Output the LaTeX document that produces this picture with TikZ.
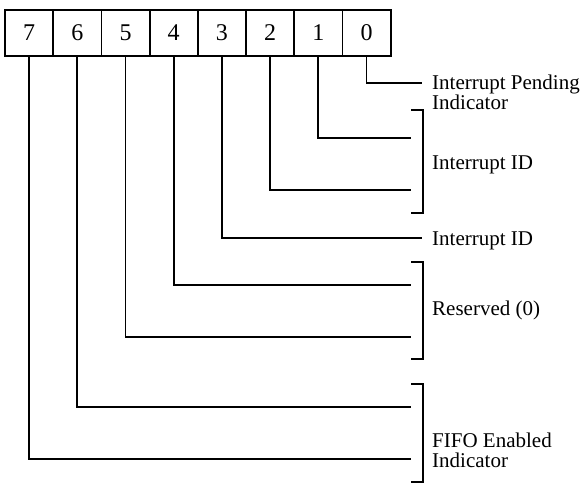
\documentclass[tikz,border=0pt]{standalone}
\usepackage{fontspec}
\setmainfont{Liberation Serif}
\begin{document}
\begin{tikzpicture}[x=1pt,y=-1pt,
  wire/.style={line width=1.8pt},
  bitbox/.style={draw,line width=1.8pt,minimum width=48.2pt,minimum height=46pt,inner sep=0pt,font=\fontsize{24}{24}\selectfont},
  lbl/.style={anchor=base west,inner sep=0pt,align=left,font=\fontsize{21}{20}\selectfont}]
\useasboundingbox (0,0) rectangle (585,489);
% register boxes
\foreach \i/\n in {0/7,1/6,2/5,3/4,4/3,5/2,6/1,7/0}{
  \node[bitbox] (b\n) at ({5+24.1+48.2*\i},33) {\n};
}
% end points of connectors
\coordinate (e0) at (422,83);
\coordinate (e1) at (411,138);
\coordinate (e2) at (411,190);
\coordinate (e3) at (422,238);
\coordinate (e4) at (411,285);
\coordinate (e5) at (411,337);
\coordinate (e6) at (411,407);
\coordinate (e7) at (411,459);
\foreach \n in {0,...,7}{
  \draw[wire] (b\n.south) |- (e\n);
}
% brackets
\coordinate (k1a) at (411,110); \coordinate (k1b) at (411,213);
\coordinate (k2a) at (411,262); \coordinate (k2b) at (411,359);
\coordinate (k3a) at (411,384); \coordinate (k3b) at (411,482);
\draw[wire] (k1a) -- ++(12,0) |- (k1b);
\draw[wire] (k2a) -- ++(12,0) |- (k2b);
\draw[wire] (k3a) -- ++(12,0) |- (k3b);
% labels
\node[lbl] (l0) at (432,110) {Interrupt Pending\\Indicator};
\node[lbl] (l12) at (432,169) {Interrupt ID};
\node[lbl] (l3) at (432,245) {Interrupt ID};
\node[lbl] (l45) at (432,315) {Reserved (0)};
\node[lbl] (l67) at (432,467) {FIFO Enabled\\Indicator};
\end{tikzpicture}
\end{document}
